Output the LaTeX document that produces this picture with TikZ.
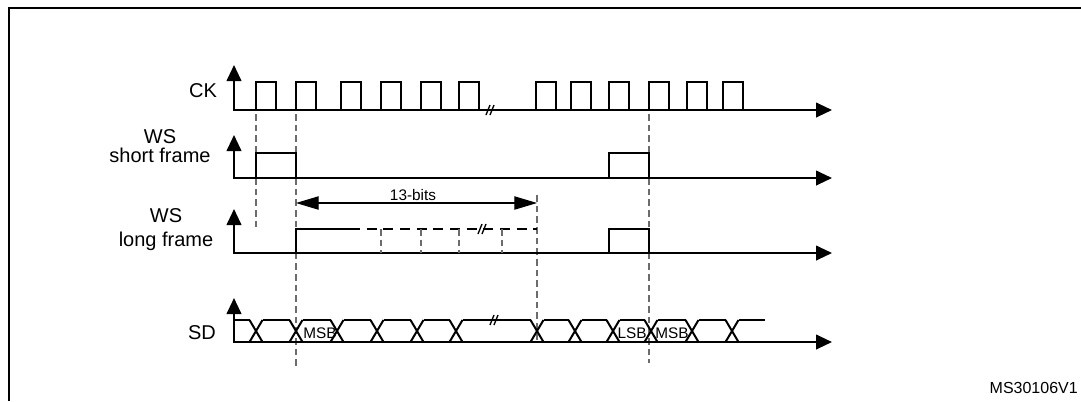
\documentclass[tikz,border=0pt]{standalone}
\usepackage{fontspec}
\setmainfont{Liberation Sans}
\usetikzlibrary{arrows.meta}

\tikzset{
  wave/.style={line width=1.5pt},
  axis/.style={line width=1.5pt, -{Triangle[length=12pt,width=11pt]}},
  guide/.style={gray!85!black, line width=1pt, dash pattern=on 5pt off 3pt},
  span/.style={line width=0.8pt, {Triangle[length=17pt,width=10pt]}-{Triangle[length=17pt,width=10pt]}},
  lbl/.style={font=\fontsize{15}{18}\selectfont, inner sep=0pt},
  small/.style={font=\fontsize{11.5}{13}\selectfont, inner sep=0pt},
}
\newcommand{\wavebreak}[2]{\draw[line width=1pt] (#1-4,#2+5) -- (#1,#2-5) (#1,#2+5) -- (#1+4,#2-5);}

\begin{document}
\begin{tikzpicture}[x=0.75pt,y=-0.75pt]
\useasboundingbox (0,0) rectangle (1081,401);
\draw[line width=1.5pt] (9,401) -- (9,8) -- (1081,8);

% guides
\draw[guide] (256,114) -- (256,230);
\draw[guide] (296,114) -- (296,367);
\draw[guide] (537,195) -- (537,343);
\draw[guide] (649,114) -- (649,363);

% axes
\foreach \y/\t in {110/65, 178/135, 253/209, 342/298} {
  \draw[axis] (234,\y+1) -- (234,\t);
  \draw[axis] (233.3,\y) -- (832,\y);
}

% labels
\node[lbl, anchor=base] (ck) at (203,97) {CK};
\node[lbl, anchor=base] (wss) at (160,143) {WS};
\node[lbl, anchor=base] (short) at (160,162) {short frame};
\node[lbl, anchor=base] (wsl) at (166,222) {WS};
\node[lbl, anchor=base] (long) at (166,246) {long frame};
\node[lbl, anchor=base] (sd) at (202,339) {SD};

% CK
\foreach \a in {256,296,341,381,421,459,536,571,609,649,687,723}
  \draw[wave] (\a,110) -- (\a,82) -- ++(20,0) -- ++(0,28);
\wavebreak{490}{110}

% WS short frame
\draw[wave] (256,178) -- (256,153) -- (296,153) -- (296,178);
\draw[wave] (609,178) -- (609,153) -- (649,153) -- (649,178);

% WS long frame
\draw[wave] (296,253) -- (296,229) -- (350,229);
\draw[wave, dash pattern=on 7.5pt off 5pt] (350,229) -- (537,229);
\foreach \x in {381,421,459,502}
  \draw[guide] (\x,229) -- (\x,253);
\draw[wave] (609,253) -- (609,229) -- (649,229) -- (649,253);
\wavebreak{482}{229}

\draw[span] (296,203) -- (537,203);
\node[small, anchor=base] (bits) at (413,200) {13-bits};

% SD
\foreach \c in {256,296,337,377,417,456,537,575,613,651,692,732}
  \draw[wave] (\c-6.5,320) -- (\c+6.5,342) (\c-6.5,342) -- (\c+6.5,320);
\draw[wave] (234,320) -- (249.5,320);
\foreach \a/\b in {256/296,296/337,337/377,377/417,417/456,456/537,537/575,575/613,613/651,651/692,692/732}
  \draw[wave] (\a+6.5,320) -- (\b-6.5,320);
\draw[wave] (738.5,320) -- (765,320);
\wavebreak{494}{320}
\node[small, anchor=base] (msb) at (320,338) {MSB};
\node[small, anchor=base] (lsb) at (632,338) {LSB};
\node[small, anchor=base] (msbb) at (672,338) {MSB};

\node[font=\fontsize{12}{14}\selectfont, inner sep=0pt, anchor=base east] (ref) at (1078,393) {MS30106V1};
\end{tikzpicture}
\end{document}
